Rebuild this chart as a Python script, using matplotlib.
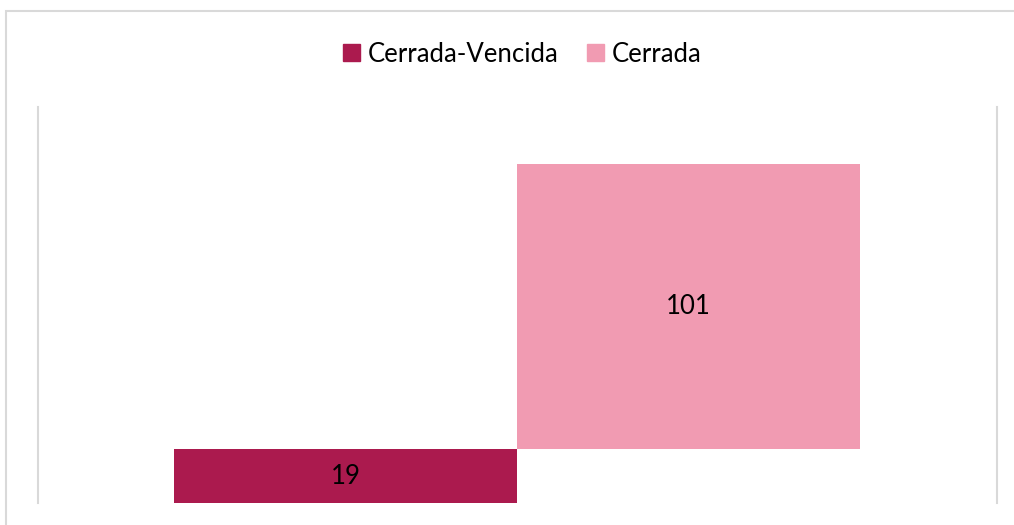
import numpy as np
import matplotlib.pyplot as plt
from matplotlib.patches import Rectangle, Patch

# datos
categorias = ["Cerrada-Vencida", "Cerrada"]
valores = [19, 101]
colores = ["#AB1A4E", "#F19BB2"]

plt.rcParams['font.family'] = ['Lato', 'DejaVu Sans']

fig = plt.figure(figsize=(10.14, 5.25), dpi=100)
ax = fig.add_axes([38 / 1014, 22 / 525, 959 / 1014, 396 / 525])

# marco exterior del grafico
fig.patches.append(Rectangle((6 / 1014, -0.05), 1.05, 1 - 11 / 525 + 0.05,
                             transform=fig.transFigure, fill=False,
                             edgecolor="#d9d9d9", linewidth=1.5))

x = np.arange(len(valores))
bases = np.concatenate([[0], np.cumsum(valores)[:-1]])
barras = ax.bar(x, valores, bottom=bases, width=1.0, color=colores)

for b, v in zip(barras, valores):
    ax.text(b.get_x() + b.get_width() / 2, b.get_y() + b.get_height() / 2, str(v),
            ha="center", va="center", fontsize=18.5, color="black")

ax.set_xlim(-0.8965, 1.899)
ax.set_ylim(0, 140)
ax.set_xticks([])
ax.set_yticks([])
for s in ["top", "bottom"]:
    ax.spines[s].set_visible(False)
for s in ["left", "right"]:
    ax.spines[s].set_color("#d9d9d9")
    ax.spines[s].set_linewidth(1.5)

handles = [Patch(color=c, label=n) for c, n in zip(colores, categorias)]
fig.legend(handles=handles, loc="center", bbox_to_anchor=(0.515, 1 - 54 / 525),
           ncol=2, frameon=False, fontsize=18.5, handlelength=0.65, handleheight=0.65,
           handletextpad=0.3, columnspacing=1.1)

fig.savefig("out.png", dpi=100)
